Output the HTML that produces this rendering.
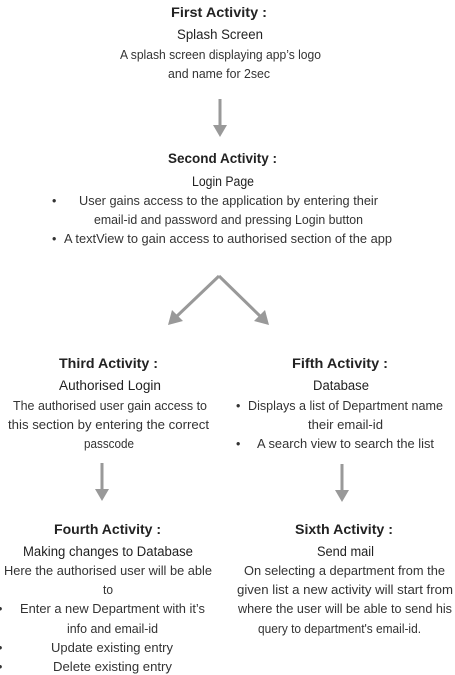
<!DOCTYPE html>
<html><head><meta charset="utf-8"><style>
html,body{margin:0;padding:0;background:#fff;width:455px;height:675px;overflow:hidden}
svg{display:block}
text{font-family:"Liberation Sans",sans-serif;fill:#222}
.t{font-weight:bold;font-size:13.5px}
.s{font-size:13.5px}
.b{font-size:12.5px;fill:#333}
</style></head><body>
<svg width="455" height="675" viewBox="0 0 455 675" xmlns="http://www.w3.org/2000/svg">
<g>
<text class="t" x="171" y="17" textLength="96" lengthAdjust="spacingAndGlyphs">First Activity :</text>
<text class="s" x="177" y="39" textLength="86" lengthAdjust="spacingAndGlyphs">Splash Screen</text>
<text class="b" x="120" y="59" textLength="201" lengthAdjust="spacingAndGlyphs">A splash screen displaying app’s logo</text>
<text class="b" x="168" y="78" textLength="102" lengthAdjust="spacingAndGlyphs">and name for 2sec</text>

<text class="t" x="168" y="163" textLength="109" lengthAdjust="spacingAndGlyphs">Second Activity :</text>
<text class="s" x="192" y="186" textLength="62" lengthAdjust="spacingAndGlyphs">Login Page</text>
<text class="b" x="52" y="205">•</text>
<text class="b" x="79" y="205" textLength="299" lengthAdjust="spacingAndGlyphs">User gains access to the application by entering their</text>
<text class="b" x="94" y="224" textLength="269" lengthAdjust="spacingAndGlyphs">email-id and password and pressing Login button</text>
<text class="b" x="52" y="243">•</text>
<text class="b" x="64" y="243" textLength="328" lengthAdjust="spacingAndGlyphs">A textView to gain access to authorised section of the app</text>

<text class="t" x="59" y="368" textLength="99" lengthAdjust="spacingAndGlyphs">Third Activity :</text>
<text class="s" x="59" y="390" textLength="102" lengthAdjust="spacingAndGlyphs">Authorised Login</text>
<text class="b" x="13" y="410" textLength="194" lengthAdjust="spacingAndGlyphs">The authorised user gain access to</text>
<text class="b" x="8" y="429" textLength="201" lengthAdjust="spacingAndGlyphs">this section by entering the correct</text>
<text class="b" x="84" y="448" textLength="50" lengthAdjust="spacingAndGlyphs">passcode</text>

<text class="t" x="292" y="368" textLength="96" lengthAdjust="spacingAndGlyphs">Fifth Activity :</text>
<text class="s" x="313" y="390" textLength="56" lengthAdjust="spacingAndGlyphs">Database</text>
<text class="b" x="236" y="410">•</text>
<text class="b" x="248" y="410" textLength="195" lengthAdjust="spacingAndGlyphs">Displays a list of Department name</text>
<text class="b" x="308" y="429" textLength="75" lengthAdjust="spacingAndGlyphs">their email-id</text>
<text class="b" x="236" y="448">•</text>
<text class="b" x="257" y="448" textLength="177" lengthAdjust="spacingAndGlyphs">A search view to search the list</text>

<text class="t" x="54" y="534" textLength="107" lengthAdjust="spacingAndGlyphs">Fourth Activity :</text>
<text class="s" x="23" y="556" textLength="170" lengthAdjust="spacingAndGlyphs">Making changes to Database</text>
<text class="b" x="4" y="575" textLength="208" lengthAdjust="spacingAndGlyphs">Here the authorised user will be able</text>
<text class="b" x="103" y="594" textLength="10" lengthAdjust="spacingAndGlyphs">to</text>
<text class="b" x="-2" y="613">•</text>
<text class="b" x="20" y="613" textLength="185" lengthAdjust="spacingAndGlyphs">Enter a new Department with it’s</text>
<text class="b" x="67" y="633" textLength="91" lengthAdjust="spacingAndGlyphs">info and email-id</text>
<text class="b" x="-2" y="652">•</text>
<text class="b" x="51" y="652" textLength="122" lengthAdjust="spacingAndGlyphs">Update existing entry</text>
<text class="b" x="-2" y="671">•</text>
<text class="b" x="53" y="671" textLength="119" lengthAdjust="spacingAndGlyphs">Delete existing entry</text>

<text class="t" x="295" y="534" textLength="98" lengthAdjust="spacingAndGlyphs">Sixth Activity :</text>
<text class="s" x="317" y="556" textLength="57" lengthAdjust="spacingAndGlyphs">Send mail</text>
<text class="b" x="244" y="575" textLength="201" lengthAdjust="spacingAndGlyphs">On selecting a department from the</text>
<text class="b" x="237" y="594" textLength="216" lengthAdjust="spacingAndGlyphs">given list a new activity will start from</text>
<text class="b" x="238" y="613" textLength="214" lengthAdjust="spacingAndGlyphs">where the user will be able to send his</text>
<text class="b" x="258" y="633" textLength="163" lengthAdjust="spacingAndGlyphs">query to department's email-id.</text>
</g>

<g fill="#999" stroke="none">
<rect x="218.5" y="99" width="3" height="27"/>
<polygon points="213,125 227,125 220,137"/>
<rect x="100.5" y="463" width="3" height="27"/>
<polygon points="95,489 109,489 102,501"/>
<rect x="340.5" y="464" width="3" height="27"/>
<polygon points="335,490 349,490 342,502"/>
</g>
<g stroke="#999" stroke-width="3" fill="none">
<line x1="219" y1="276" x2="176" y2="317"/>
<line x1="219" y1="276" x2="261" y2="317"/>
</g>
<g fill="#999">
<polygon points="168,325 172,310 183,321"/>
<polygon points="269,325 265,310 254,321"/>
</g>
</svg>
</body></html>
